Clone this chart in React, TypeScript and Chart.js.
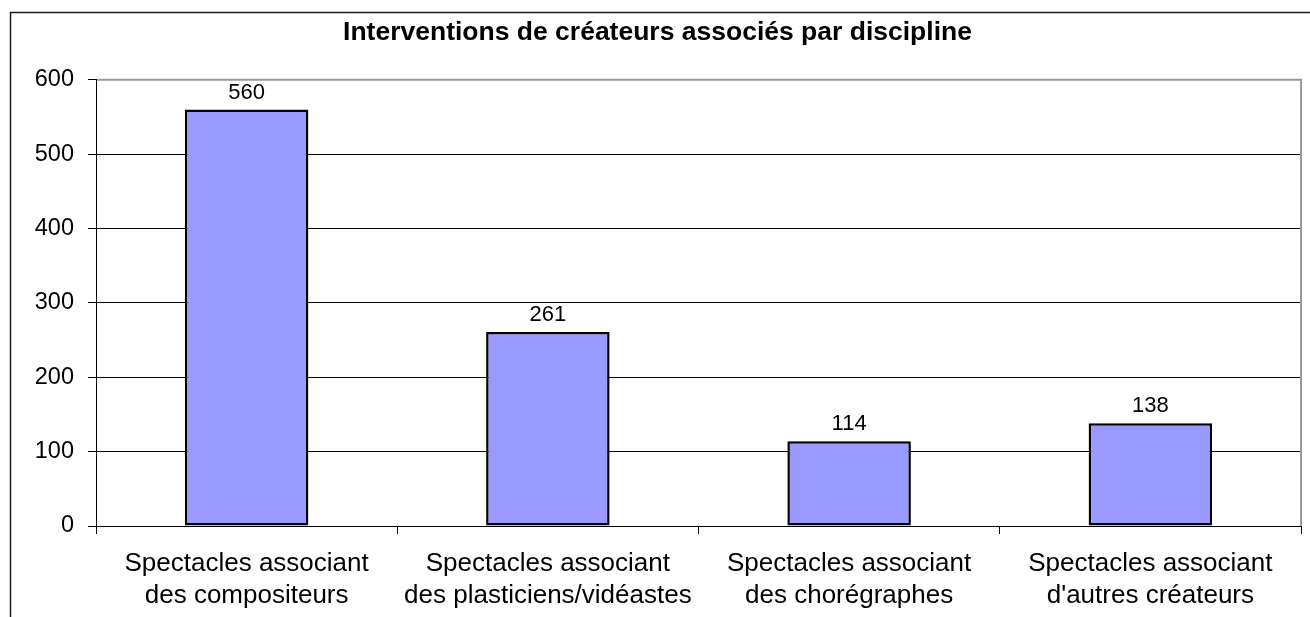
import React, { useEffect, useRef } from "react";
import { Chart, registerables } from "chart.js";

Chart.register(...registerables);

const chartTitle = "Interventions de créateurs associés par discipline";
const categoryLines: string[][] = [
  ["Spectacles associant", "des compositeurs"],
  ["Spectacles associant", "des plasticiens/vidéastes"],
  ["Spectacles associant", "des chorégraphes"],
  ["Spectacles associant", "d'autres créateurs"],
];
const interventions: number[] = [560, 261, 114, 138];
const yMin = 0;
const yMax = 600;
const yStep = 100;

const FONT = "'Liberation Sans', Arial, Helvetica, sans-serif";

const framePlugin = {
  id: "frame",
  beforeDraw(chart: any) {
    const { ctx, width, height } = chart;
    ctx.save();
    ctx.fillStyle = "#ffffff";
    ctx.fillRect(0, 0, width, height);
    ctx.strokeStyle = "#1a1a1a";
    ctx.lineWidth = 1.5;
    ctx.beginPath();
    ctx.moveTo(10.5, height + 5);
    ctx.lineTo(10.5, 12.5);
    ctx.lineTo(width + 5, 12.5);
    ctx.stroke();
    ctx.restore();
  },
  afterDraw(chart: any) {
    const { ctx, chartArea } = chart;
    ctx.save();
    ctx.strokeStyle = "#9a9a9a";
    ctx.lineWidth = 2;
    ctx.beginPath();
    ctx.moveTo(chartArea.left + 1, chartArea.top);
    ctx.lineTo(chartArea.right, chartArea.top);
    ctx.lineTo(chartArea.right, chartArea.bottom);
    ctx.stroke();
    ctx.restore();
  },
};

const valueLabelPlugin = {
  id: "valueLabels",
  afterDatasetsDraw(chart: any) {
    const { ctx } = chart;
    const meta = chart.getDatasetMeta(0);
    const data = chart.data.datasets[0].data as number[];
    ctx.save();
    ctx.fillStyle = "#000";
    ctx.font = `22px ${FONT}`;
    ctx.textAlign = "center";
    ctx.textBaseline = "alphabetic";
    meta.data.forEach((bar: any, i: number) => {
      ctx.fillText(String(data[i]), bar.x, bar.y - 11);
    });
    ctx.restore();
  },
};

export default function App() {
  const canvasRef = useRef<HTMLCanvasElement | null>(null);

  useEffect(() => {
    if (!canvasRef.current) return;
    const chart = new Chart(canvasRef.current, {
      type: "bar",
      data: {
        labels: categoryLines,
        datasets: [
          {
            data: interventions,
            backgroundColor: "#9999ff",
            borderColor: "#000000",
            borderWidth: 2.5,
            borderSkipped: false,
            categoryPercentage: 1,
            barPercentage: 0.41,
          },
        ],
      },
      options: {
        responsive: false,
        animation: false,
        devicePixelRatio: 1,
        layout: { padding: { left: 14, right: 9, top: 0, bottom: 0 } },
        plugins: {
          legend: { display: false },
          tooltip: { enabled: false },
          title: {
            display: true,
            text: chartTitle,
            color: "#000",
            font: { family: FONT, size: 26.5, weight: "bold", lineHeight: 1.2 },
            padding: { top: 17, bottom: 31 },
          },
        },
        scales: {
          x: {
            type: "category",
            offset: true,
            grid: {
              offset: true,
              drawOnChartArea: false,
              drawTicks: true,
              tickLength: 8,
              tickColor: "#000",
              tickWidth: 1,
            },
            border: { display: true, color: "#000", width: 1 },
            ticks: {
              color: "#000",
              font: { family: FONT, size: 26, lineHeight: "32px" },
              padding: 14,
              maxRotation: 0,
              autoSkip: false,
            },
            afterFit(scale: any) {
              scale.height = 91;
            },
          },
          y: {
            min: yMin,
            max: yMax,
            grid: {
              color: (c: any) => (c.tick && c.tick.value === yMax ? "rgba(0,0,0,0)" : "#000"),
              lineWidth: 1,
              drawTicks: true,
              tickLength: 8,
              tickColor: "#000",
              tickWidth: 1,
            },
            border: { display: true, color: "#000", width: 1 },
            ticks: {
              stepSize: yStep,
              color: "#000",
              font: { family: FONT, size: 23.5 },
              padding: 14,
            },
            afterFit(scale: any) {
              scale.width = 82;
            },
          },
        },
      },
      plugins: [framePlugin, valueLabelPlugin],
    });
    return () => chart.destroy();
  }, []);

  return (
    <div style={{ position: "absolute", left: 0, top: 0, width: 1310, height: 617, background: "#fff" }}>
      <canvas ref={canvasRef} width={1310} height={617} style={{ display: "block" }} />
    </div>
  );
}
